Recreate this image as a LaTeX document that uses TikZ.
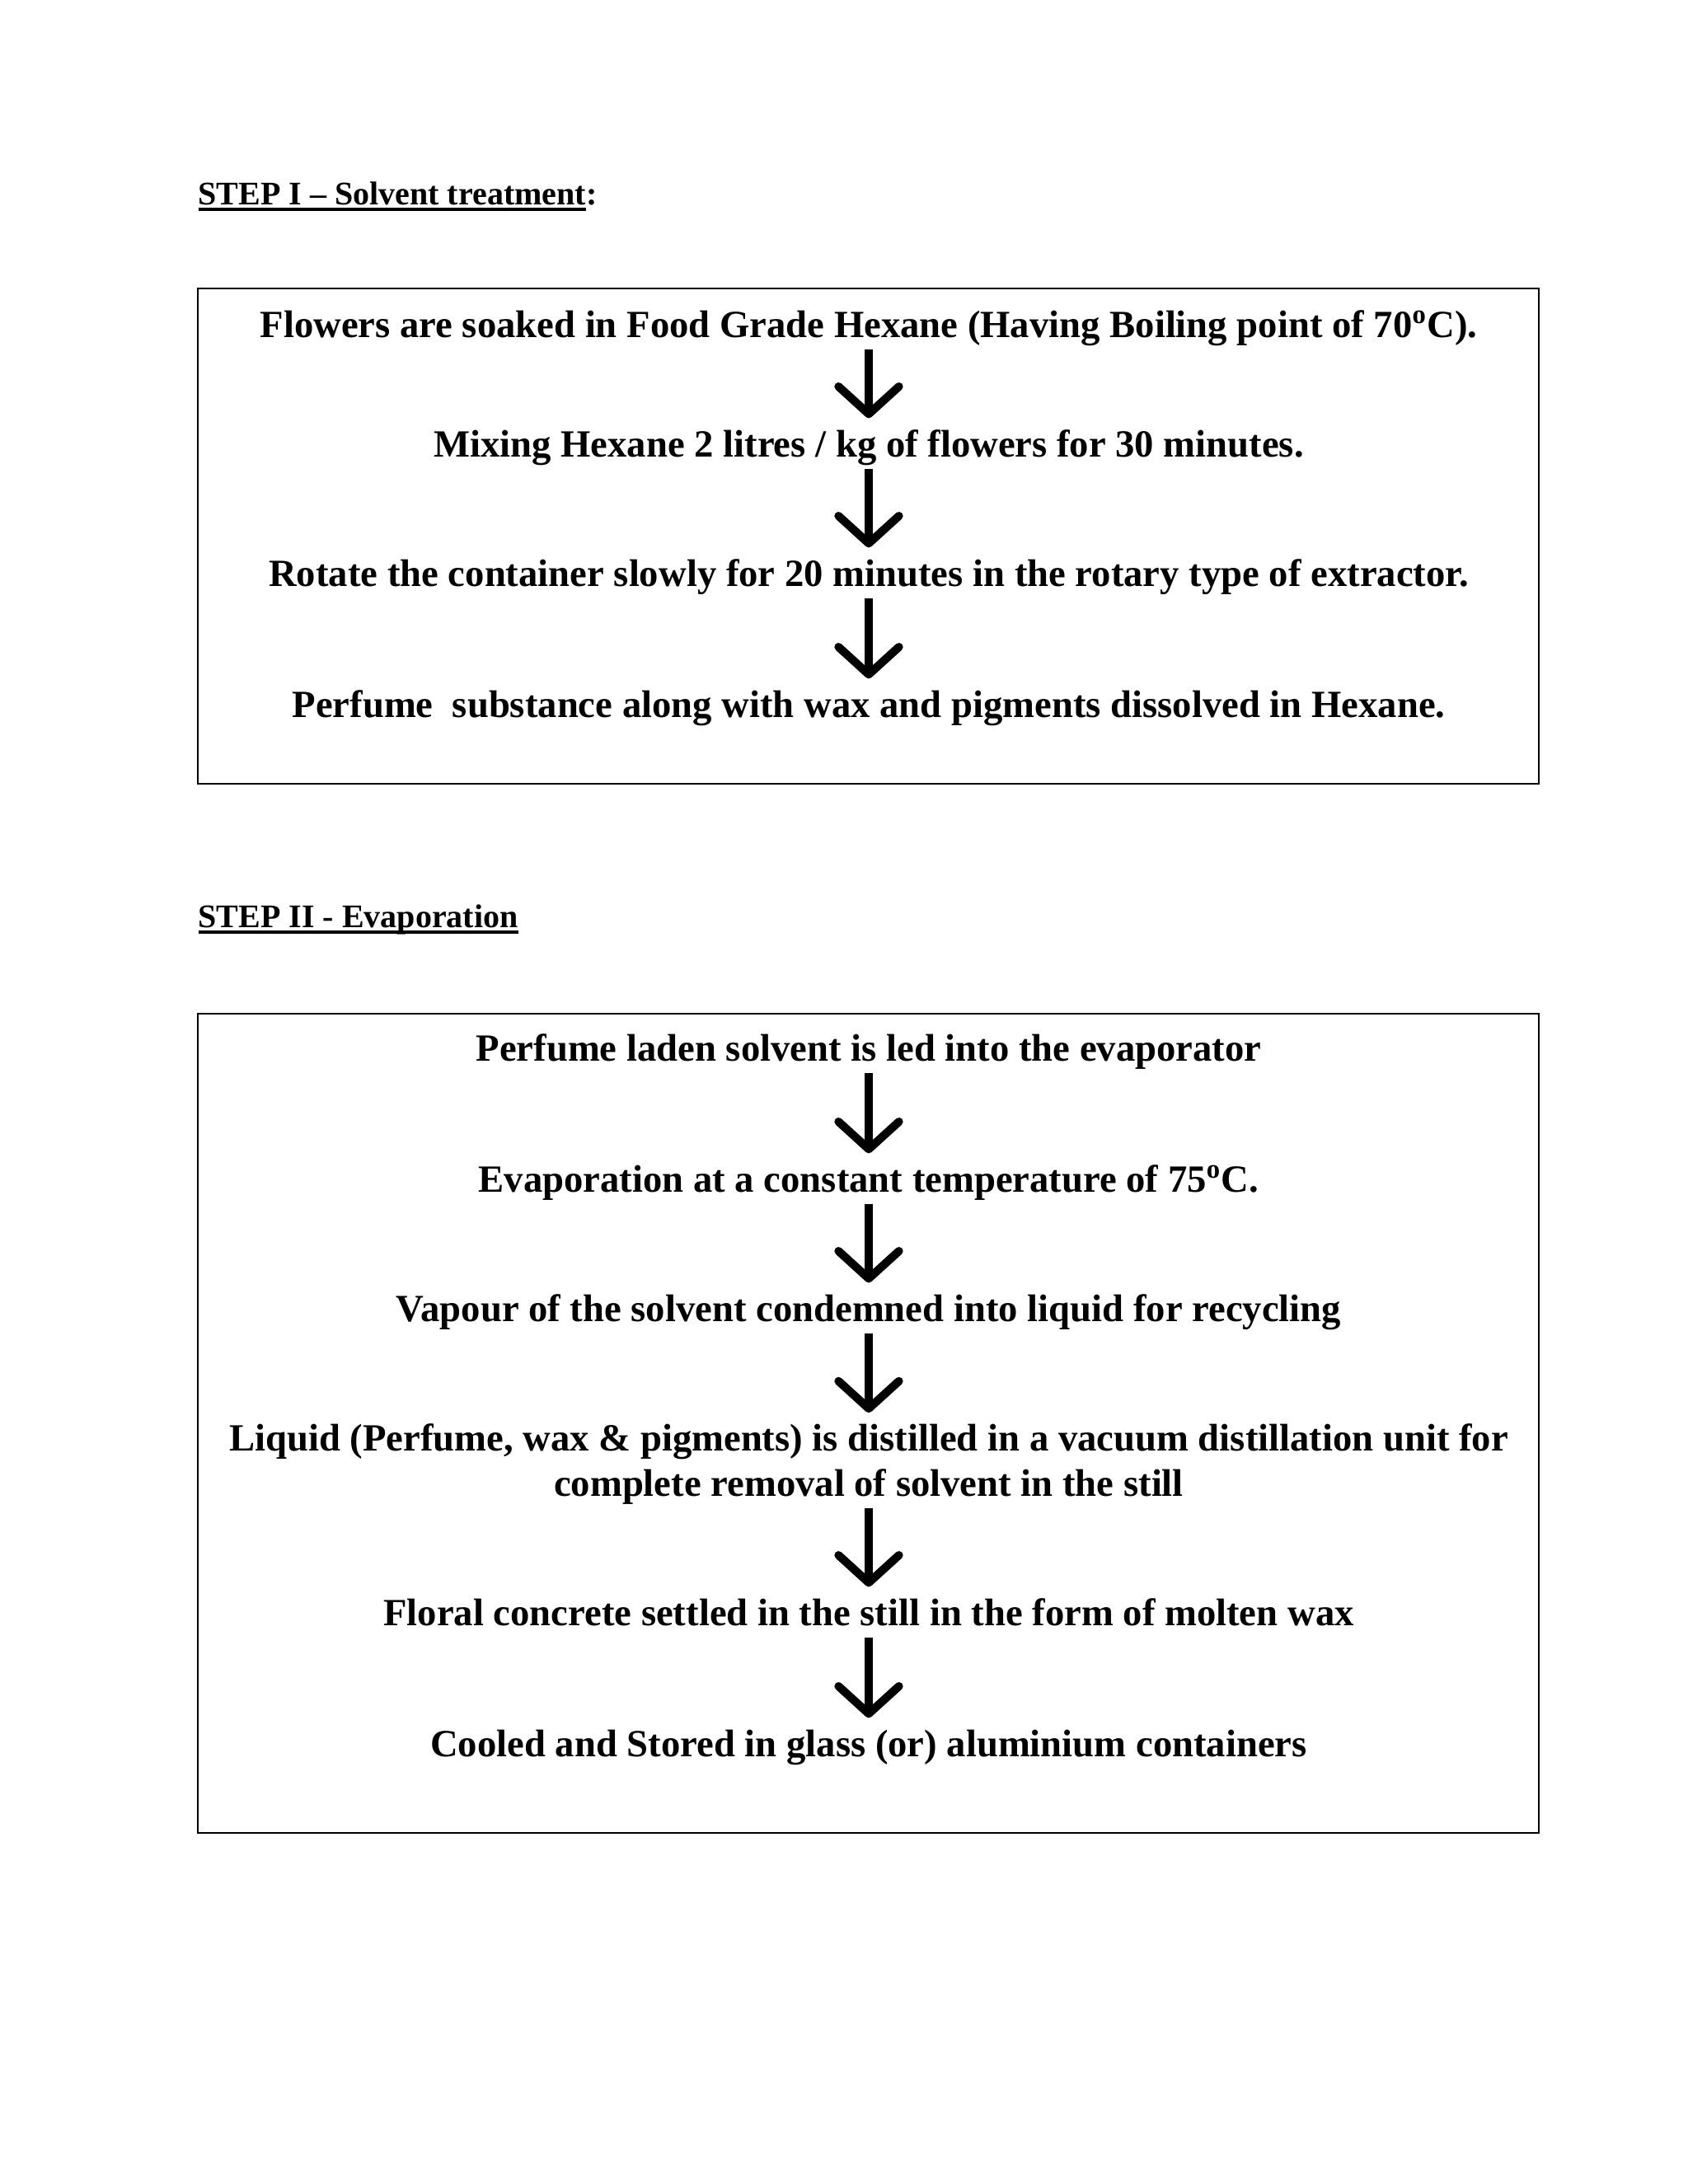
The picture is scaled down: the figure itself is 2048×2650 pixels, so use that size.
\documentclass[tikz,border=0pt]{standalone}
\usepackage{fontspec}
\setmainfont{Liberation Serif}
\usetikzlibrary{arrows.meta}
\newcommand\headul[1]{\setbox0\hbox{#1}\rlap{\rule[-2.3pt]{\wd0}{1.1pt}}\box0}

\begin{document}
\begin{tikzpicture}[x=0.010542cm,y=-0.010542cm,
  line/.style={font=\fontsize{14}{16}\selectfont\bfseries, inner sep=0pt, text height=10pt, text depth=3pt},
  wrap/.style={font=\fontsize{14}{16.5}\selectfont\bfseries, inner sep=0pt, align=center},
  head/.style={font=\fontsize{12}{14}\selectfont\bfseries, inner sep=0pt, anchor=base west},
  flow/.style={line width=3pt, -{Straight Barb[length=10pt,width=22pt,round]}, shorten <=1pt, shorten >=4pt}]
\useasboundingbox (0,0) rectangle (2048,2650);
% step I
\node[head] (h1) at (240,248) {\headul{STEP I -- Solvent treatment}:};
\draw[line width=0.8pt] (240,350) rectangle (1867,951);
\node[line] (a1) at (1054,398) {Flowers are soaked in Food Grade Hexane (Having Boiling point of 70\textsuperscript{o}C).};
\node[line] (a2) at (1054,543) {Mixing Hexane 2 litres / kg of flowers for 30 minutes.};
\node[line] (a3) at (1054,700) {Rotate the container slowly for 20 minutes in the rotary type of extractor.};
\node[line] (a4) at (1054,859) {Perfume~ substance along with wax and pigments dissolved in Hexane.};
\path[draw,flow] (a1) -- (a2);
\path[draw,flow] (a2) -- (a3);
\path[draw,flow] (a3) -- (a4);
% step II
\node[head] (h2) at (240,1125) {\headul{STEP II - Evaporation}};
\draw[line width=0.8pt] (240,1230) rectangle (1867,2224);
\node[line] (b1) at (1054,1276) {Perfume laden solvent is led into the evaporator};
\node[line] (b2) at (1054,1435) {Evaporation at a constant temperature of 75\textsuperscript{o}C.};
\node[line] (b3) at (1054,1592) {Vapour of the solvent condemned into liquid for recycling};
\node[wrap] (b4) at (1054,1777) {Liquid (Perfume, wax \& pigments) is distilled in a vacuum distillation unit for\\complete removal of solvent in the still};
\node[line] (b5) at (1054,1961) {Floral concrete settled in the still in the form of molten wax};
\node[line] (b6) at (1054,2120) {Cooled and Stored in glass (or) aluminium containers};
\path[draw,flow] (b1) -- (b2);
\path[draw,flow] (b2) -- (b3);
\path[draw,flow] (b3) -- (b4);
\path[draw,flow] (b4) -- (b5);
\path[draw,flow] (b5) -- (b6);
\end{tikzpicture}
\end{document}
